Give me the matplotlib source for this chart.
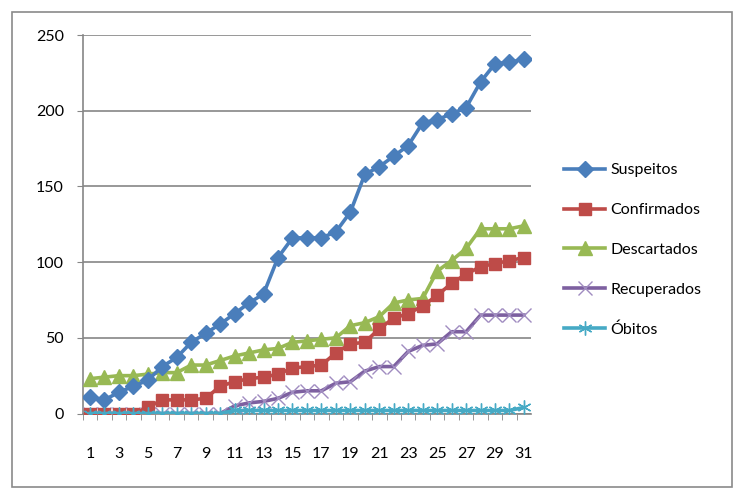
import matplotlib
matplotlib.use("Agg")
import matplotlib.pyplot as plt
from matplotlib.patches import Rectangle

days = list(range(1, 32))
suspeitos = [11, 9, 14, 18, 22, 31, 37, 47, 53, 59, 66, 73, 79, 103, 116, 116, 116, 120, 133, 158,
             163, 170, 177, 192, 194, 198, 202, 219, 231, 232, 234]
confirmados = [0, 0, 0, 0, 4, 9, 9, 9, 10, 18, 21, 23, 24, 26, 30, 31, 32, 40, 46, 47,
               56, 63, 66, 71, 78, 86, 92, 97, 99, 101, 103]
descartados = [23, 24, 25, 25, 26, 27, 27, 32, 32, 35, 38, 40, 42, 43, 47, 48, 49, 50, 58, 60,
               64, 73, 75, 76, 94, 101, 109, 122, 122, 122, 124]
recuperados = [0, 0, 0, 0, 0, 0, 0, 0, 0, 0, 5, 7, 8, 10, 14, 15, 15, 20, 21, 28,
               31, 31, 41, 45, 46, 54, 54, 65, 65, 65, 65]
obitos = [0, 0, 0, 0, 0, 0, 0, 0, 0, 0, 2, 2, 2, 2, 2, 2, 2, 2, 2, 2,
          2, 2, 2, 2, 2, 2, 2, 2, 2, 2, 4]
series_names = ["Suspeitos", "Confirmados", "Descartados", "Recuperados", "Óbitos"]
y_ticks = [0, 50, 100, 150, 200, 250]
x_labels = list(range(1, 32, 2))

plt.rcParams['font.family'] = ['Lato', 'DejaVu Sans']

fig = plt.figure(figsize=(7.45, 5.0), dpi=100)
ax = fig.add_axes([0.111, 0.173, 0.602, 0.757])

grid_c = '#868686'
ax.plot(days, suspeitos, color='#4A7EBB', lw=2.6, marker='D', ms=8, label=series_names[0], zorder=5)
ax.plot(days, confirmados, color='#BE4B48', lw=2.6, marker='s', ms=9, label=series_names[1], zorder=4)
ax.plot(days, descartados, color='#98B954', lw=2.6, marker='^', ms=9.5, label=series_names[2], zorder=3)
ax.plot(days, recuperados, color='#7D60A0', lw=2.6, marker='x', ms=10, mew=1.0,
        mec='#A08CC0', label=series_names[3], zorder=3)
ax.plot(days, obitos, color='#46AAC5', lw=2.6, marker=(6, 2, 0), ms=10, mew=1.0,
        mec='#46AAC5', label=series_names[4], zorder=6)

ax.set_xlim(0.5, 31.5)
ax.set_ylim(0, 250)
ax.set_yticks(y_ticks)
ax.set_xticks(x_labels)
ax.set_xticklabels([str(v) for v in x_labels])
ax.set_xticks([d + 0.5 for d in range(0, 31)], minor=True)
ax.tick_params(axis='x', which='major', length=0, pad=24, labelsize=11.5)
ax.tick_params(axis='x', which='minor', length=4, color=grid_c, direction='out')
ax.tick_params(axis='y', length=4.5, color=grid_c, pad=9, labelsize=11.5)
ax.yaxis.grid(True, color=grid_c, lw=1.2)
ax.set_axisbelow(True)
for s in ['top', 'right']:
    ax.spines[s].set_visible(False)
for s in ['left', 'bottom']:
    ax.spines[s].set_color(grid_c)
    ax.spines[s].set_linewidth(1.2)
ax.spines['bottom'].set_zorder(2)

leg = ax.legend(loc='center left', bbox_to_anchor=(0.757, 0.5), bbox_transform=fig.transFigure,
                frameon=False, fontsize=11.5, handlelength=2.6, handletextpad=0.3,
                labelspacing=1.6, borderpad=0, borderaxespad=0)

fig.patches.append(Rectangle((12 / 745, 1 - 487 / 500), 720 / 745, 475 / 500,
                             transform=fig.transFigure, fill=False, edgecolor='#8a8a8a', lw=1.2))

fig.savefig('out.png', dpi=100)
